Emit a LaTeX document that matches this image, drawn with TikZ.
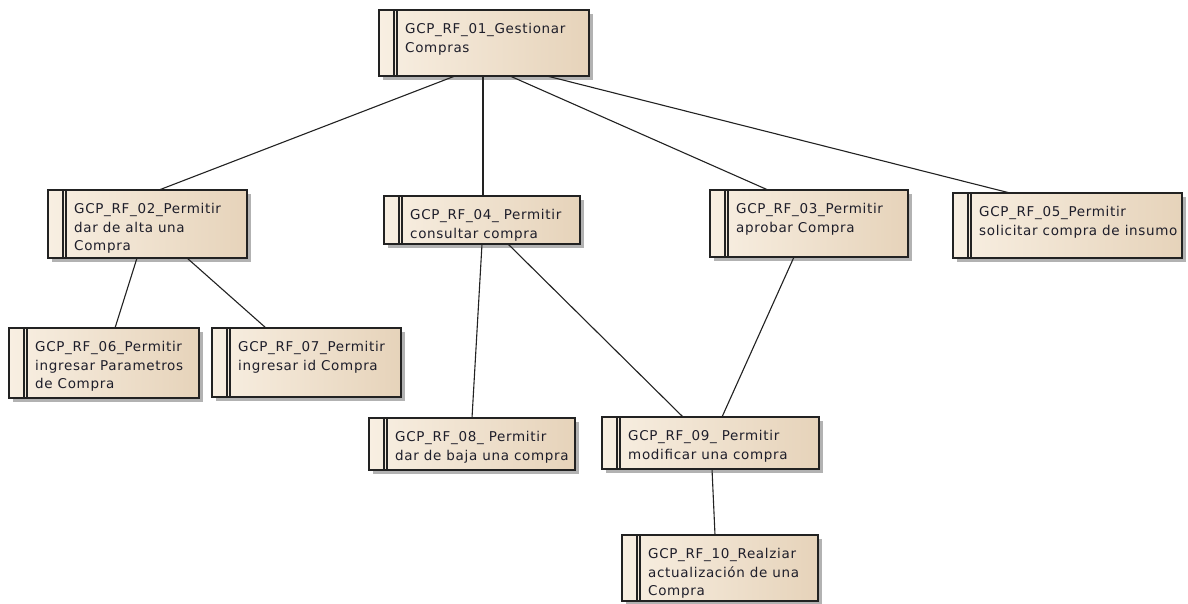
\documentclass[tikz,border=0pt]{standalone}
\usepackage{fontspec}
\setmainfont{DejaVu Sans}
\newfontfamily\eafont[LetterSpace=5]{DejaVu Sans}
\usetikzlibrary{shadows}
\definecolor{boxL}{HTML}{F8EFE2}
\definecolor{boxR}{HTML}{E6D3BA}
\definecolor{edgec}{HTML}{222222}
\definecolor{txt}{HTML}{1E1E2A}
\tikzset{
  reqbox/.style={draw=edgec, line width=1.2pt, left color=boxL, right color=boxR,
    inner sep=0pt, outer sep=0pt,
    drop shadow={shadow xshift=3.5pt, shadow yshift=-3.5pt, fill=black!30, opacity=1}},
  barline/.style={draw=edgec, line width=1.1pt},
  reqtext/.style={inner sep=0pt, align=left, text=txt,
    font={\eafont\fontsize{13.5}{18.5}\selectfont}, anchor=north west},
  conn/.style={draw=edgec, line width=1.1pt},
}
\newcommand\reqbox[6]{%
  \node[reqbox, minimum width=#4-#2, minimum height=#5-#3, anchor=north west] (#1) at (#2,#3) {};
  \draw[barline] ([xshift=15pt]#1.north west) -- ([xshift=15pt]#1.south west);
  \draw[barline] ([xshift=18pt]#1.north west) -- ([xshift=18pt]#1.south west);
  \node[reqtext] (#1t) at ([xshift=26pt,yshift=-13.5pt]#1.north west) {#6};
}
\begin{document}
\begin{tikzpicture}[x=1pt,y=-1pt]
\useasboundingbox (0,0) rectangle (1188,603);
\fill[white] (0,0) rectangle (1188,603);
\reqbox{n01}{379}{10}{589}{76}{GCP\_RF\_01\_Gestionar\\Compras}
\reqbox{n02}{48}{190}{247}{258}{GCP\_RF\_02\_Permitir\\dar de alta una\\Compra}
\reqbox{n04}{384}{196}{580}{244}{GCP\_RF\_04\_ Permitir\\consultar compra}
\reqbox{n03}{710}{190}{908}{257}{GCP\_RF\_03\_Permitir\\aprobar Compra}
\reqbox{n05}{953}{193}{1182}{258}{GCP\_RF\_05\_Permitir\\solicitar compra de insumo}
\reqbox{n06}{9}{328}{199}{398}{GCP\_RF\_06\_Permitir\\ingresar Parametros\\de Compra}
\reqbox{n07}{212}{328}{401}{397}{GCP\_RF\_07\_Permitir\\ingresar id Compra}
\reqbox{n08}{369}{418}{575}{470}{GCP\_RF\_08\_ Permitir\\dar de baja una compra}
\reqbox{n09}{602}{417}{819}{469}{GCP\_RF\_09\_ Permitir\\modificar una compra}
\reqbox{n10}{622}{535}{818}{601}{GCP\_RF\_10\_Realziar\\actualización de una\\Compra}
\draw[conn] ([xshift=76pt]n01.south west) -- ([xshift=111pt]n02.north west);
\draw[conn] ([xshift=104pt]n01.south west) -- ([xshift=99pt]n04.north west);
\draw[conn] ([xshift=131pt]n01.south west) -- ([xshift=58pt]n03.north west);
\draw[conn] ([xshift=168pt]n01.south west) -- ([xshift=57pt]n05.north west);
\draw[conn] ([xshift=89pt]n02.south west) -- ([xshift=106pt]n06.north west);
\draw[conn] ([xshift=139pt]n02.south west) -- ([xshift=54pt]n07.north west);
\draw[conn] ([xshift=98pt]n04.south west) -- ([xshift=103pt]n08.north west);
\draw[conn] ([xshift=124pt]n04.south west) -- ([xshift=81pt]n09.north west);
\draw[conn] ([xshift=84pt]n03.south west) -- ([xshift=120pt]n09.north west);
\draw[conn] ([xshift=110pt]n09.south west) -- ([xshift=93pt]n10.north west);
\end{tikzpicture}
\end{document}
